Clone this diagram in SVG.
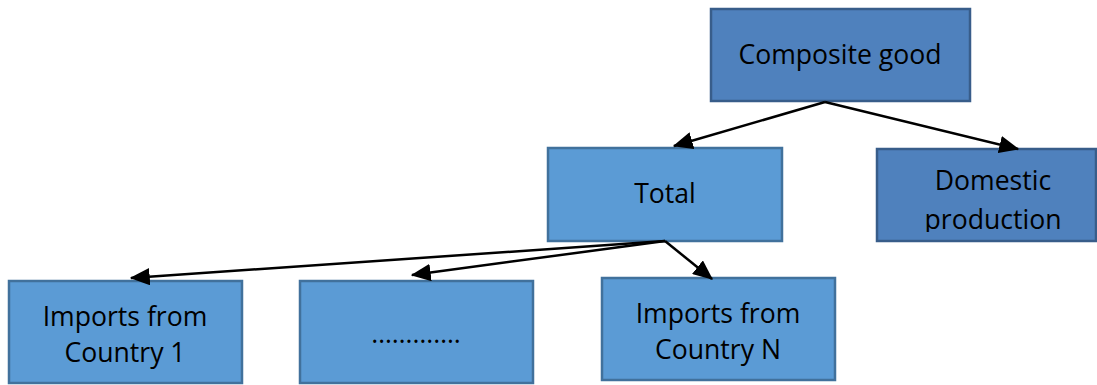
<svg xmlns="http://www.w3.org/2000/svg" width="1097" height="385" viewBox="0 0 1097 385">
<style>
.dark{fill:#4F81BD;stroke:#385D8A;stroke-width:2.5}
.light{fill:#5B9BD5;stroke:#41719C;stroke-width:2.5}
text{font-family:"Open Sans","Noto Sans",sans-serif;font-size:26.6px;fill:#000;text-anchor:middle}
.conn line{stroke:#000;stroke-width:2.5;marker-end:url(#ah)}
</style>
<defs>
<marker id="ah" markerWidth="8" markerHeight="7" refX="7.5" refY="3.5" orient="auto" markerUnits="strokeWidth">
<path d="M0,0 L8,3.5 L0,7 Z" fill="#000"/>
</marker>
<clipPath id="clipDom"><rect x="876" y="148" width="221" height="84"/></clipPath>
</defs>
<g id="composite"><rect class="dark" x="711" y="9" width="259" height="92"/><text x="840" y="64">Composite good</text></g>
<g id="total"><rect class="light" x="548" y="148" width="234" height="93"/><text x="665" y="203">Total</text></g>
<g id="domestic"><rect class="dark" x="877" y="149" width="219" height="92"/><g clip-path="url(#clipDom)"><text x="993" y="190">Domestic</text><text x="993" y="229">production</text></g></g>
<g id="country1"><rect class="light" x="9" y="281" width="233" height="102"/><text x="125" y="326">Imports from</text><text x="125" y="362">Country 1</text></g>
<g id="dots"><rect class="light" x="300" y="281" width="233" height="102"/><text x="416" y="343">………….</text></g>
<g id="countryN"><rect class="light" x="602" y="278" width="233" height="102"/><text x="718" y="323">Imports from</text><text x="718" y="359">Country N</text></g>
<g class="conn" id="connectors">
<line x1="825" y1="102" x2="674" y2="146"/>
<line x1="825" y1="102" x2="1018" y2="149"/>
<line x1="665" y1="241" x2="131" y2="278"/>
<line x1="665" y1="241" x2="412" y2="275"/>
<line x1="665" y1="241" x2="712" y2="279"/>
</g>
</svg>
